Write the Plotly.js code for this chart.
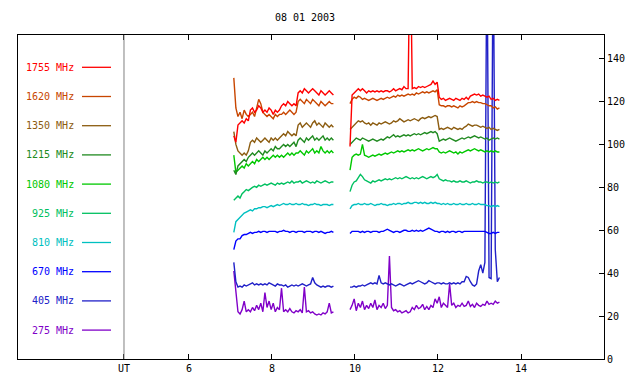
<!DOCTYPE html>
<html><head><meta charset="utf-8">
<script src="https://cdn.plot.ly/plotly-3.0.1.min.js"></script>
<style>html,body{margin:0;padding:0;background:#fff;}#chart{width:640px;height:384px;}</style>
</head><body><div id="chart"></div>
<script>
// Time (UT hours) for the two observing segments
const t1 = [7.08,7.13,7.18,7.23,7.28,7.33,7.38,7.43,7.48,7.53,7.58,7.63,7.68,7.73,7.78,7.83,7.88,7.93,7.98,
  8.03,8.08,8.13,8.18,8.23,8.28,8.33,8.38,8.43,8.48,8.53,8.58,8.63,8.68,8.73,8.78,8.83,8.88,8.93,8.98,
  9.03,9.08,9.13,9.18,9.23,9.28,9.33,9.38,9.43,9.48];
const t2 = [9.88,9.93,9.98,
  10.03,10.08,10.13,10.18,10.23,10.28,10.33,10.38,10.43,10.48,10.53,10.58,10.63,10.68,10.73,10.78,10.83,10.88,10.93,10.98,
  11.03,11.08,11.13,11.18,11.23,11.28,11.33,11.38,11.43,11.48,11.53,11.58,11.63,11.68,11.73,11.78,11.83,11.88,11.93,11.98,
  12.03,12.08,12.13,12.18,12.23,12.28,12.33,12.38,12.43,12.48,12.53,12.58,12.63,12.68,12.73,12.78,12.83,12.88,12.93,12.98,
  13.03,13.08,13.13,13.18,13.23,13.28,13.33,13.38,13.43,13.48];

const names = ['1755 MHz','1620 MHz','1350 MHz','1215 MHz','1080 MHz','925 MHz','810 MHz','670 MHz','405 MHz','275 MHz'];
const colors = ['#ff0000','#c84600','#8c5c10','#208a20','#00c800','#00c060','#00c0c0','#0000ff','#2020c8','#8000c8'];

const f1755a = [104,101,109,110,111,110,112,111,116,117, 115,116,118,117,115,116,115,117,116,114, 116,115,116,118,119,118,120,119,118,119, 118,124,125,124,126,125,124,125,126,125, 124,123,125,124,123,124,125,124,123];
const f1755b = [99,123,124,125,126,125,126,125,124,125, 124.5,125,124.5,125,124.5,125,124.5,125,125,124.5, 125,126,125,125.5,126,125.5,127,126,126,200, 126,126.5,126,127,126.5,127,126.5,127,127.5,128, 129.5,128,129,122,121,121.5,120.5,121,121.5,121, 120.5,121.5,121,120.5,121.5,121,122,121,122.5,123, 123.5,123,123.5,122.5,123,122.5,122,122.5,121,121.5, 120.5,121,120.5];

const f1620a = [131,117,113,115,112,116,114,113,114,115, 113,117,121,119,115,114,113,114,113,112, 114,113,114,114,115,114,115,116,115,114, 115,120,121,120,119,121,120,119,121,120, 119,118,120,119,118,119,120,119,119];
const f1620b = [119,121,122,121.5,122.5,122,121,121.5,121,120.5, 121,121.5,121,120.5,121,121.5,121,121.5,122,121.5, 122,122.5,122,123,122.5,123,122.5,123,123.5,123, 123.5,123,124,123.5,124,124.5,124,124.5,124,124.5, 125,124.5,125.5,118.5,118,118,117.5,118,118,117.5, 118,117.5,117,118,117.5,118,119,119.5,119.5,120, 119.5,120,119.5,119.5,119,119,118.5,118,118,117, 117.5,116.5,117];

const f1350a = [106,100,97,96,95,96,95,97,101,102, 101,103,102,101,102,103,102,101,103,102, 103,102,103,104,105,104,106,105,104,105, 104,109,110,108,109,110,109,108,110,111, 109,110,109,108,110,109,108,109,108];
const f1350b = [107,108,109.5,110,111,110.5,111,110,109.5,110, 109,110,109.5,109,110,109.5,110,110.5,110,109.5, 110,111,110.5,111,112,111,110.5,111,111.5,111, 111.5,112,111.5,111,112,112.5,112,112.5,113,112.5, 113,113.5,113,107,107.5,107,107.5,108,107.5,107, 108,107.5,107,107.5,107,108,108.5,109.5,109,108.5, 109,109,108.5,108,108.5,108,107.5,108,107,107.5, 107,106.5,107];

const f1215a = [88,86,90,91,92,93,92,94,95,96, 95,96,97,96,95,97,96,97,98,97, 99,98,98,99,100,99,100,99,100,101, 99,102,103,102,101,103,102,103,104,102, 103,102,103,104,102,103,102,103,102];
const f1215b = [100,101,102,103,102.5,102,103,102.5,102,101.5, 102,102.5,102,101.5,102,102.5,102,103,103.5,103, 104,104.5,103.5,104,103.5,104,104.5,104,104.5,104, 104.5,105,104.5,105,104.5,105,105.5,105,105.5,106, 105.5,106,105,101.5,102,102.5,102,102.5,103,102.5, 102,101.5,102,102.5,103,102.5,103,103.5,103,103.5, 104,103.5,103,103.5,103,102.5,103,102,102.5,103, 102.5,103,102.5];

const f1080a = [95,87,88,89,90,89,91,90,91,92, 91,93,92,93,94,93,94,93,94,95, 94,95,94,95,94,95,96,95,96,95, 96,96,97,96,95,97,96,97,98,96, 97,96,99,97,96,97,96,97,96];
const f1080b = [88,94,95,95.5,95,95.5,100,95,94.5,94, 94.5,95,94.5,95,95.5,95,95.5,96,95.5,96, 96.5,96,96.5,97,96.5,97,96.5,97,97.5,97, 97.5,97,97.5,98,97.5,97,97.5,98,97.5,98, 98.5,98,98,96.5,96,96.5,96,96.5,97,96.5, 96,96.5,95.5,96.5,96,96.5,97,97.5,97,97.5, 98,97.5,97,97.5,97,96.5,97,96.5,97,96.5, 97,96.5,96.5];

const f925a = [74,75,76,75,77,78,79,78.5,79.5,80, 80.5,80,81,80.5,81,81.5,81,81.5,82,81.5, 81,82,81.5,82,81.5,82,82.5,82,83,82, 82.5,82.5,83,82,82.5,83,82.5,82,82.5,82, 83,82.5,82,82.5,83,82.5,82,82.5,82.5];
const f925b = [78,81,82.5,83,84.5,86,85,83.5,83,82.5, 82,83,82.5,83,83.5,83,83.5,84,83.5,84, 83.5,84,84.5,84,84.5,84,84.5,85,84.5,84, 84.5,84,84.5,84,84.5,85,84.5,84,84.5,85, 84.5,85,86,84,83.5,83,83.5,83,83,82.5, 83,82.5,82.5,83,82.5,82.5,83,82.5,82,82.5, 82.5,83,82.5,82.5,82,82.5,82.5,82,82.5,82, 82.5,82,82.5];

const f810a = [59,64,65,66,67,68,68.5,69,69.5,69, 70,70,70.5,70.5,71,71,70.5,71,71.5,71, 71.5,72,71.5,72,72.5,72,72,72.5,72,72, 72.5,72,72,72.5,72,72,71.5,72,72,72.5, 72,72,71.5,72,72,72,71.5,72,72];
const f810b = [70,71.5,72,72,72.5,72,72,72.5,72,72, 72.5,72,71.5,72,72,72.5,72,72,71.5,72, 72,72.5,72,72.5,72.5,72,72.5,72.5,73,72.5, 72.5,73,73,72.5,73,72.5,73,72.5,72.5,73, 72.5,73,72.5,72.5,72,72.5,72,72.5,72,72, 72.5,72,72,72.5,72,72,72.5,72,72,72.5, 72,72,72.5,72,72,72,71.5,71.5,71,71.5, 71,71.5,71];

const f670a = [51,55,56,56,57.5,58,58,58.5,59,58.5, 59,59,59.5,59,59.5,59.5,59,59.5,59.5,59.5, 59.5,59,59.5,59.5,60,59.5,59.5,59,59.5,59.5, 59,59.5,59.5,59.5,59,59.5,59.5,59.5,59,59.5, 59.5,59,59.5,59,58.5,59,59,59.5,59];
const f670b = [58.5,59.5,59.5,59.5,59.5,59,59.5,59,59.5,59.5, 59,59.5,59.5,59.5,59,59.5,59.5,60,60.5,60, 59.5,59,59.5,59.5,59,59.5,60,60,59.5,59.5, 60,59.5,60,59.5,60,59.5,60,60.5,61,60.5, 60,59.5,59.5,59,59.5,59.5,59,59.5,59,59.5, 59.5,59,59.5,59.5,59,59.5,59.5,59.5,59.5,59.5, 59.5,59.5,59.5,59.5,59.5,59.5,59,58.5,58.5,59, 58.5,59,59];

const f405a = [45,36,33.5,34,33.5,34.5,34,34.5,35,35.5, 34.5,35,34.5,35,34.5,35,34.5,35.5,35,34.5, 34,35,34.5,34.5,34,34.5,33.5,34,34.5,34, 34.5,34,34.5,35,34.5,34,34.5,35,38,35.5, 34.5,34,33.5,34,33.5,34,34,33.5,34];
const f405b = [33.5,33.5,34,33.5,34,34,34.5,34,34.5,35, 35.5,35,35.5,35,39,35.5,35,35.5,35,34.5, 35,34.5,34,34.5,35,34.5,34,34.5,35,35.5, 35,35.5,36,36.5,36,35.5,35,35.5,36.5,36, 35.5,35,35.5,35.5,35,35.5,35,35,35.5,35, 35.5,35,35.5,35,36,36,38.5,38,36,34.5, 34,35,41,44,40,45,200,38,37.5,200, 51,36,38];

const f275a = [41,30,22,21,23,27,22,23,22,24, 22.5,25,23,26,22,31,24,27,23,26, 22,24,23,33,22,23,22,23.5,22,21.5, 22.5,22,23,21.5,33.5,22,22.5,21.5,22,21, 20.5,21,20.5,21.5,21,22,26,21.5,22];
const f275b = [23,25,28,22.5,26,24,27,23,25,23.5, 26,24,27.5,23,25,24,26,23.5,25,48, 24,22.5,23,22,22.5,21.5,22,22.5,21.5,22, 24,23,25,23.5,24,25.5,23,24.5,23,25, 24,28,26,29,24,26,25,24,35,25, 26,24,25,24.5,26,24.5,25,27,24.5,25.5, 24,26,25,24.5,25.5,25,27,25.5,26,25.5, 27,26,26.5];

const segA = [f1755a,f1620a,f1350a,f1215a,f1080a,f925a,f810a,f670a,f405a,f275a];
const segB = [f1755b,f1620b,f1350b,f1215b,f1080b,f925b,f810b,f670b,f405b,f275b];

const xTickVals = [4.434,6,8,10,12,14];
const xTickText = ['UT','6','8','10','12','14'];
const yTickVals = [0,20,40,60,80,100,120,140];

// plot-area pixel geometry
const PL = 18, PR = 604, PT = 35, PB = 359;
const pxX = p => (p - PL) / (PR - PL);
const pxY = p => (PB - p) / (PB - PT);
const FONT = 'DejaVu Sans Mono, Liberation Mono, monospace';

const traces = [];
for (let k = names.length - 1; k >= 0; k--) {
  traces.push({
    type: 'scatter', mode: 'lines', name: names[k],
    x: t1.concat([null], t2),
    y: segA[k].concat([null], segB[k]),
    line: {color: colors[k], width: 1.4, shape: 'linear'},
    connectgaps: false, hoverinfo: 'skip', showlegend: false
  });
}

const annotations = [], shapes = [];
names.forEach((n, k) => {
  const py = 67.3 + 29.2 * k;
  annotations.push({text: n, xref: 'paper', yref: 'paper', x: pxX(76), y: pxY(py),
    xanchor: 'right', yanchor: 'middle', showarrow: false,
    font: {family: FONT, size: 10, color: colors[k]}});
  shapes.push({type: 'line', xref: 'paper', yref: 'paper', x0: pxX(82), x1: pxX(111),
    y0: pxY(py), y1: pxY(py), line: {color: colors[k], width: 1.3}});
});
shapes.push({type: 'line', xref: 'x', yref: 'paper', x0: xTickVals[0], x1: xTickVals[0], y0: 0, y1: 1,
  line: {color: '#808080', width: 1}});

const layout = {
  width: 640, height: 384,
  margin: {l: PL, r: 640 - PR, t: PT, b: 384 - PB, pad: 0},
  paper_bgcolor: '#ffffff', plot_bgcolor: '#ffffff',
  font: {family: FONT, size: 10, color: '#000'},
  title: {text: '08 01 2003', x: 305/640, xref: 'container', xanchor: 'center',
    y: 1 - 17/384, yref: 'container', yanchor: 'middle',
    font: {family: FONT, size: 10, color: '#000'}},
  showlegend: false,
  xaxis: {range: [1.88, 16.0], tickvals: xTickVals, ticktext: xTickText,
    ticks: 'inside', ticklen: 5, tickcolor: '#000', showline: true, linecolor: '#000', linewidth: 1,
    mirror: 'ticks', showgrid: false, zeroline: false, fixedrange: true,
    tickfont: {family: FONT, size: 10, color: '#000'}},
  yaxis: {range: [0, 151], side: 'right', tickvals: yTickVals,
    ticks: 'inside', ticklen: 5, tickcolor: '#000', showline: true, linecolor: '#000', linewidth: 1,
    mirror: true, showgrid: false, zeroline: false, fixedrange: true,
    tickfont: {family: FONT, size: 10, color: '#000'}},
  annotations: annotations, shapes: shapes, hovermode: false
};

Plotly.newPlot('chart', traces, layout, {displayModeBar: false, staticPlot: true});
</script></body></html>
